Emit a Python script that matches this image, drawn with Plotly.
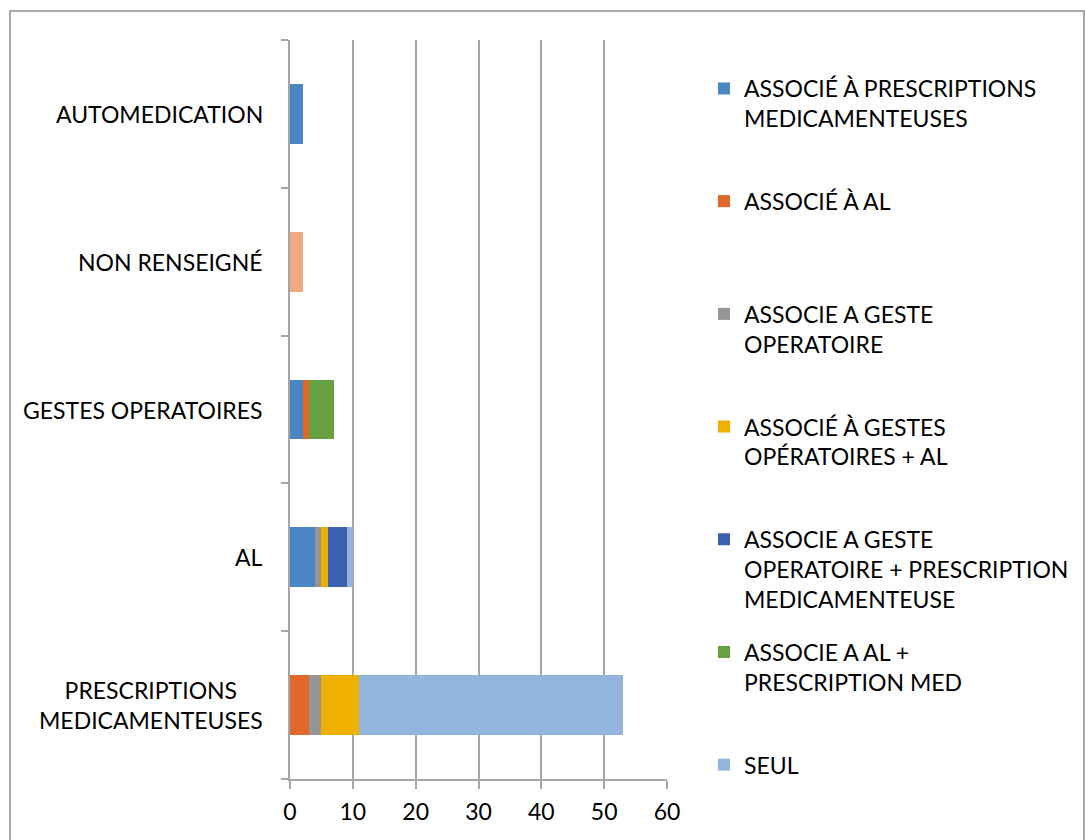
import plotly.graph_objects as go

# ---- data ----
categories = ["PRESCRIPTIONS MEDICAMENTEUSES", "AL", "GESTES OPERATOIRES",
              "NON RENSEIGNÉ", "AUTOMEDICATION"]
category_labels = ["PRESCRIPTIONS<br>MEDICAMENTEUSES", "AL", "GESTES OPERATOIRES",
                   "NON RENSEIGNÉ", "AUTOMEDICATION"]

assoc_prescriptions = [0, 4, 2, 0, 2]
assoc_al = [3, 0, 1, 0, 0]
assoc_geste = [2, 1, 0, 0, 0]
assoc_gestes_al = [6, 1, 0, 0, 0]
assoc_geste_prescription = [0, 3, 0, 0, 0]
assoc_al_prescription = [0, 0, 4, 0, 0]
seul = [42, 1, 0, 0, 0]
non_renseigne = [0, 0, 0, 2, 0]

series_names = [
    "ASSOCIÉ À PRESCRIPTIONS<br>MEDICAMENTEUSES",
    "ASSOCIÉ À AL",
    "ASSOCIE A GESTE<br>OPERATOIRE",
    "ASSOCIÉ À GESTES<br>OPÉRATOIRES + AL",
    "ASSOCIE A GESTE<br>OPERATOIRE + PRESCRIPTION<br>MEDICAMENTEUSE",
    "ASSOCIE A AL +<br>PRESCRIPTION MED",
    "SEUL",
    "NON RENSEIGNÉ",
]
series_values = [assoc_prescriptions, assoc_al, assoc_geste, assoc_gestes_al,
                 assoc_geste_prescription, assoc_al_prescription, seul, non_renseigne]
series_colors = ["#4A86C4", "#E0692A", "#959595", "#F0B000",
                 "#3B62AE", "#66A041", "#93B4DD", "#F2A982"]
show_in_legend = [True, True, True, True, True, True, True, False]

x_ticks = [0, 10, 20, 30, 40, 50, 60]

FONT = "Lato"
FS = 23
GRID = "#A6A6A6"

fig = go.Figure()
n_legend = sum(show_in_legend)
for i, (name, vals, col, sl) in enumerate(zip(series_names, series_values, series_colors, show_in_legend)):
    lines = name.count("<br>") + 1
    # pad every legend entry except the last visible one to 3 lines so that entries are evenly spaced
    padded = name + ("<br> " * (3 - lines) if (sl and i < n_legend - 1) else "")
    fig.add_trace(go.Bar(
        y=categories, x=vals, orientation="h", name=padded,
        marker=dict(color=col, line=dict(width=0)),
        showlegend=sl, legendgroup=name,
    ))

W, H = 1085, 840
L, R, T, B = 290, 418, 40, 61
pw, ph = W - L - R, H - T - B

def px(x):
    return (x - L) / pw

def py(y):
    return (H - B - y) / ph

fig.update_layout(
    width=W, height=H,
    margin=dict(l=L, r=R, t=T, b=B, autoexpand=False),
    barmode="stack", bargap=0.595,
    plot_bgcolor="white", paper_bgcolor="white",
    font=dict(family=FONT, size=FS, color="#000000"),
    showlegend=True,
    legend=dict(
        x=px(704), y=py(67), xanchor="left", yanchor="top",
        valign="top", tracegroupgap=20, maxheight=1000,
        font=dict(family=FONT, size=FS, color="#000000"),
        bgcolor="rgba(0,0,0,0)",
    ),
    xaxis=dict(
        range=[0, 60], tickvals=x_ticks, ticktext=[str(v) for v in x_ticks],
        showgrid=True, gridcolor=GRID, gridwidth=1.5,
        showline=True, linecolor=GRID, linewidth=1.5,
        ticks="outside", ticklen=8, tickcolor=GRID, tickwidth=1.5,
        ticklabelstandoff=4,
        zeroline=False, fixedrange=True,
        tickfont=dict(family=FONT, size=FS, color="#000000"),
    ),
    yaxis=dict(
        type="category", categoryorder="array", categoryarray=categories,
        showticklabels=False, showgrid=False,
        showline=True, linecolor=GRID, linewidth=1.5,
        ticks="outside", ticklen=7, tickcolor=GRID, tickwidth=1.5,
        tickson="boundaries", zeroline=False, fixedrange=True,
    ),
)

for cat, lab in zip(categories, category_labels):
    fig.add_annotation(
        x=px(265), xref="paper", y=cat, yref="y",
        text=lab, showarrow=False, xanchor="right", align="center",
        font=dict(family=FONT, size=FS, color="#000000"),
    )

# chart frame
fig.add_shape(type="rect", xref="paper", yref="paper",
              x0=px(10), x1=px(1084), y0=py(860), y1=py(11),
              line=dict(color="#8C8C8C", width=1.5), fillcolor="rgba(0,0,0,0)",
              layer="below")

fig.write_html("out.html", config={"displayModeBar": False},
               post_script="document.body.style.margin='0';document.body.style.overflow='hidden';")
